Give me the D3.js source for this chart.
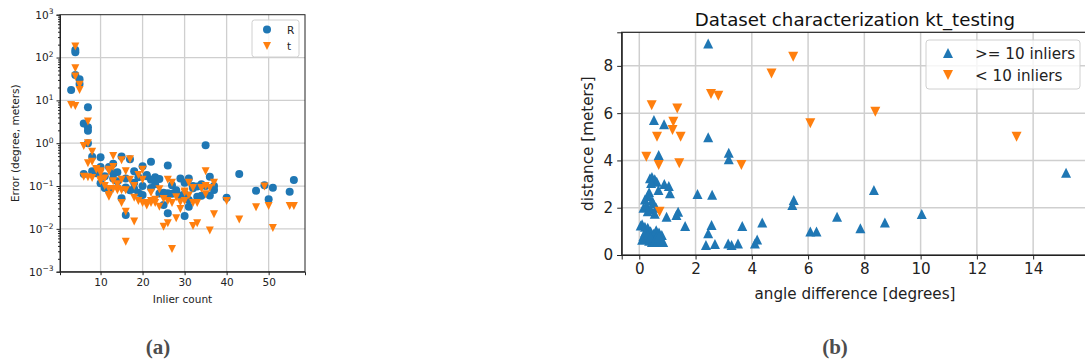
<!DOCTYPE html>
<html>
<head>
<meta charset="utf-8">
<script src="https://cdn.jsdelivr.net/npm/d3@7"></script>
<style>
  body { margin: 0; background: #fff; }
  svg { display: block; font-family: "DejaVu Sans", sans-serif; }
</style>
</head>
<body>
<div id="chart"></div>
<script>
// ---- data (a): inlier count vs error ----
const rCount = [3,4,4,4,5,5,6,7,7,7,7,8,10,6,10,13,15,17,18,20,22,26,35,43,56,29,30,36,10,12,15,16,16,19,20,21,23,24,25,26,26,28,27,30,31,31,32,34,37,40,47,49,50,51,55,12,13,14,21,12,8,9,11,14,16,18,19,22,23,25,24,27,29,30,32,33,33,35,36,31,20,17,13,11,28,34,37,22,18]
const rError = [17.5,150,133,39,31,24,2.9,6.9,2.35,1.96,1.0,0.48,0.47,0.19,0.28,0.33,0.49,0.42,0.22,0.29,0.37,0.30,0.9,0.19,0.138,0.15,0.12,0.165,0.116,0.081,0.052,0.021,0.093,0.07,0.062,0.17,0.16,0.145,0.036,0.023,0.068,0.068,0.105,0.02,0.033,0.15,0.089,0.059,0.081,0.053,0.078,0.105,0.049,0.091,0.074,0.28,0.2,0.21,0.18,0.08,0.22,0.2,0.17,0.13,0.15,0.12,0.16,0.09,0.11,0.07,0.067,0.066,0.06,0.065,0.1,0.097,0.056,0.1,0.06,0.047,0.1,0.08,0.15,0.09,0.08,0.11,0.1,0.14,0.085]
const tCount = [3,4,4,4,4,5,5,7,6,7,8,7,8,13,15,17,20,13,35,9,10,12,6,7,8,10,12,13,14,15,16,16,17,18,18,20,21,22,23,24,25,26,26,27,27,28,29,30,30,31,32,32,33,34,35,36,37,37,40,43,47,49,50,51,55,56,10,12,16,19,20,10,15,12,13,14,15,16,12,19,22,9,24,32,34,30,22,25,26,28,29,31,33,21,23,11,14,18,11,27,35,36]
const tError = [7.8,7.4,180,56,36,23,17.5,3.2,0.86,1.0,0.63,0.34,0.37,0.5,0.4,0.42,0.24,0.28,0.22,0.24,0.2,0.22,0.165,0.16,0.155,0.14,0.062,0.13,0.08,0.04,0.025,0.005,0.14,0.0148,0.053,0.04,0.04,0.045,0.048,0.033,0.0112,0.0135,0.14,0.04,0.0034,0.0177,0.029,0.045,0.07,0.12,0.04,0.0117,0.0135,0.088,0.064,0.0091,0.022,0.12,0.045,0.0165,0.032,0.097,0.034,0.0105,0.034,0.034,0.22,0.24,0.22,0.18,0.14,0.13,0.14,0.085,0.085,0.085,0.08,0.08,0.056,0.045,0.04,0.25,0.084,0.09,0.09,0.075,0.07,0.05,0.045,0.055,0.042,0.06,0.04,0.035,0.04,0.1,0.11,0.1,0.15,0.12,0.1,0.09]
const countTicks = [10, 20, 30, 40, 50]
const errorExponents = [-3, -2, -1, 0, 1, 2, 3]

// ---- data (b): angle difference vs distance ----
const highAngle = [2.45,0.52,0.88,2.45,0.69,3.18,3.18,0.38,0.45,0.55,0.62,0.42,0.89,1.05,0.68,1.09,2.07,2.59,0.3,0.35,0.2,0.45,0.15,0.25,0.4,0.5,0.6,0.3,0.55,0.97,1.38,1.32,1.63,0.05,0.1,0.2,0.3,0.4,0.5,0.6,0.7,0.8,0.15,0.25,0.35,0.45,0.55,0.65,0.75,0.85,0.2,0.3,0.1,0.4,0.6,0.7,2.57,2.45,2.37,2.69,3.16,3.28,3.51,3.66,4.11,4.19,4.37,5.49,5.44,6.08,6.30,7.03,7.86,8.34,8.73,10.04,15.17]
const highDist = [8.95,5.71,5.53,4.98,4.23,4.33,4.05,3.25,3.3,3.2,3.1,3.05,3.0,2.92,2.75,2.61,2.58,2.55,2.5,2.65,2.35,2.3,2.0,2.1,1.95,2.2,2.0,1.85,1.75,1.62,1.83,1.69,1.23,1.25,1.3,1.2,1.15,1.0,0.9,1.05,0.95,0.85,0.8,0.7,0.6,0.55,0.65,0.55,0.6,0.55,0.95,0.85,0.65,0.75,0.75,0.8,1.27,0.92,0.42,0.47,0.49,0.42,0.49,1.23,0.49,0.66,1.37,2.33,2.11,0.99,0.99,1.62,1.13,2.75,1.37,1.73,3.48]
const lowAngle = [4.70,2.55,2.81,0.44,1.35,1.21,1.18,0.63,1.47,0.25,0.69,1.42,3.63,0.72,5.47,6.08,8.39,13.41]
const lowDist = [7.68,6.81,6.74,6.33,6.20,5.64,5.29,5.0,5.0,4.16,3.81,3.88,3.81,1.83,8.39,5.57,6.06,5.0]
const angleTicks = [0, 2, 4, 6, 8, 10, 12, 14]
const distTicks = [0, 2, 4, 6, 8]

const blue = "#1f77b4", orange = "#ff7f0e", gridColor = "#cfcfcf"

const svg = d3.select("#chart").append("svg")
    .attr("width", 1085)
    .attr("height", 362)

// triangle centred on its bounding box, like matplotlib markers
function tri(s, up) {
    return up ? `M0,${-s}L${s},${s}L${-s},${s}Z` : `M0,${s}L${s},${-s}L${-s},${-s}Z`
}

// ================= (a) =================
const ax1 = { left: 60, top: 14.7, right: 305, bottom: 271.7 }
const x1 = d3.scaleLinear().domain([0.35, 58.65]).range([ax1.left, ax1.right])
const y1 = d3.scaleLog().domain([1e-3, 1e3]).range([ax1.bottom, ax1.top])
const g1 = svg.append("g")

// grid
g1.selectAll(null).data(countTicks).join("line")
    .attr("x1", d => x1(d)).attr("x2", d => x1(d))
    .attr("y1", ax1.top).attr("y2", ax1.bottom)
    .attr("stroke", gridColor).attr("stroke-width", 1.3)
g1.selectAll(null).data(errorExponents.slice(1, -1)).join("line")
    .attr("y1", d => y1(10 ** d)).attr("y2", d => y1(10 ** d))
    .attr("x1", ax1.left).attr("x2", ax1.right)
    .attr("stroke", gridColor).attr("stroke-width", 1.3)

// points
g1.selectAll(null).data(d3.zip(rCount, rError)).join("circle")
    .attr("cx", d => x1(d[0])).attr("cy", d => y1(d[1]))
    .attr("r", 4).attr("fill", blue)
g1.selectAll(null).data(d3.zip(tCount, tError)).join("path")
    .attr("d", tri(4, false))
    .attr("transform", d => `translate(${x1(d[0])},${y1(d[1])})`)
    .attr("fill", orange)

// axes
g1.append("g")
    .attr("transform", `translate(0,${ax1.bottom})`)
    .call(d3.axisBottom(x1).tickValues(countTicks).tickSize(3.5).tickPadding(3))
const yAxis1 = g1.append("g")
    .attr("transform", `translate(${ax1.left},0)`)
    .call(d3.axisLeft(y1).tickValues(errorExponents.map(e => 10 ** e)).tickSize(3.5).tickPadding(3).tickFormat(""))
const minor = []
errorExponents.slice(0, -1).forEach(e => { for (let k = 2; k < 10; k++) minor.push(k * 10 ** e) })
g1.append("g")
    .attr("transform", `translate(${ax1.left},0)`)
    .call(d3.axisLeft(y1).tickValues(minor).tickSize(2).tickFormat(""))
    .call(a => a.select(".domain").remove())

yAxis1.selectAll(".tick text").each(function(d) {
    const t = d3.select(this)
    const e = Math.round(Math.log10(d))
    t.append("tspan").text("10")
    t.append("tspan").text(e < 0 ? "\u2212" + (-e) : e)
        .attr("font-size", 7.5).attr("dy", "-0.55em")
})
g1.selectAll(".tick text").attr("font-size", 10.5).attr("fill", "#222")
    .attr("font-family", "DejaVu Sans")
g1.selectAll(".tick line").attr("stroke", "#222")
g1.selectAll(".domain").attr("stroke", "#222")

// spines
g1.append("rect")
    .attr("x", ax1.left).attr("y", ax1.top)
    .attr("width", ax1.right - ax1.left).attr("height", ax1.bottom - ax1.top)
    .attr("fill", "none").attr("stroke", "#222").attr("stroke-width", 1)

g1.append("text")
    .attr("x", (ax1.left + ax1.right) / 2).attr("y", 303)
    .attr("text-anchor", "middle").attr("font-size", 10.5).attr("fill", "#222")
    .text("Inlier count")
g1.append("text")
    .attr("transform", `translate(19,${(ax1.top + ax1.bottom) / 2}) rotate(-90)`)
    .attr("text-anchor", "middle").attr("font-size", 10.5).attr("fill", "#222")
    .text("Error (degree, meters)")

// legend (a)
const leg1 = g1.append("g")
leg1.append("rect")
    .attr("x", 252).attr("y", 20).attr("width", 47).attr("height", 37).attr("rx", 2.5)
    .attr("fill", "white").attr("fill-opacity", 0.8).attr("stroke", "#d0d0d0")
leg1.append("circle").attr("cx", 267).attr("cy", 29.5).attr("r", 4).attr("fill", blue)
leg1.append("path").attr("d", tri(4, false)).attr("transform", "translate(267,46)").attr("fill", orange)
leg1.append("text").attr("x", 287).attr("y", 33.5).attr("font-size", 10.5).attr("fill", "#222").text("R")
leg1.append("text").attr("x", 287).attr("y", 50).attr("font-size", 10.5).attr("fill", "#222").text("t")

// ================= (b) =================
const ax2 = { left: 621.7, top: 32.3, right: 1088, bottom: 255 }
const x2 = d3.scaleLinear().domain([-0.625, 15.95]).range([ax2.left, ax2.right])
const y2 = d3.scaleLinear().domain([0, 9.42]).range([ax2.bottom, ax2.top])
const g2 = svg.append("g")
const fs2 = 15.2

g2.selectAll(null).data(angleTicks).join("line")
    .attr("x1", d => x2(d)).attr("x2", d => x2(d))
    .attr("y1", ax2.top).attr("y2", ax2.bottom)
    .attr("stroke", gridColor).attr("stroke-width", 1.5)
g2.selectAll(null).data(distTicks.slice(1)).join("line")
    .attr("y1", d => y2(d)).attr("y2", d => y2(d))
    .attr("x1", ax2.left).attr("x2", ax2.right)
    .attr("stroke", gridColor).attr("stroke-width", 1.5)

g2.selectAll(null).data(d3.zip(highAngle, highDist)).join("path")
    .attr("d", tri(5, true))
    .attr("transform", d => `translate(${x2(d[0])},${y2(d[1])})`)
    .attr("fill", blue)
g2.selectAll(null).data(d3.zip(lowAngle, lowDist)).join("path")
    .attr("d", tri(5, false))
    .attr("transform", d => `translate(${x2(d[0])},${y2(d[1])})`)
    .attr("fill", orange)

g2.append("g")
    .attr("transform", `translate(0,${ax2.bottom})`)
    .call(d3.axisBottom(x2).tickValues(angleTicks).tickSize(4.5).tickPadding(4))
g2.append("g")
    .attr("transform", `translate(${ax2.left},0)`)
    .call(d3.axisLeft(y2).tickValues(distTicks).tickSize(4.5).tickPadding(4))
g2.selectAll(".tick text").attr("font-size", fs2).attr("fill", "#222")
    .attr("font-family", "DejaVu Sans")
g2.selectAll(".tick line").attr("stroke", "#222")
g2.selectAll(".domain").attr("stroke", "#222")

g2.append("rect")
    .attr("x", ax2.left).attr("y", ax2.top)
    .attr("width", ax2.right - ax2.left).attr("height", ax2.bottom - ax2.top)
    .attr("fill", "none").attr("stroke", "#222").attr("stroke-width", 1.2)

g2.append("text")
    .attr("x", 855).attr("y", 26)
    .attr("text-anchor", "middle").attr("font-size", 18.2).attr("fill", "#111")
    .text("Dataset characterization kt_testing")
g2.append("text")
    .attr("x", 855).attr("y", 299)
    .attr("text-anchor", "middle").attr("font-size", fs2).attr("fill", "#222")
    .text("angle difference [degrees]")
g2.append("text")
    .attr("transform", `translate(593,${(ax2.top + ax2.bottom) / 2}) rotate(-90)`)
    .attr("text-anchor", "middle").attr("font-size", fs2).attr("fill", "#222")
    .text("distance [meters]")

const leg2 = g2.append("g")
leg2.append("rect")
    .attr("x", 926).attr("y", 40).attr("width", 154).attr("height", 49).attr("rx", 3)
    .attr("fill", "white").attr("fill-opacity", 0.8).attr("stroke", "#d0d0d0")
leg2.append("path").attr("d", tri(5, true)).attr("transform", "translate(948,53)").attr("fill", blue)
leg2.append("path").attr("d", tri(5, false)).attr("transform", "translate(948,75)").attr("fill", orange)
leg2.append("text").attr("x", 975).attr("y", 58.5).attr("font-size", fs2).attr("fill", "#222").text(">= 10 inliers")
leg2.append("text").attr("x", 975).attr("y", 80.5).attr("font-size", fs2).attr("fill", "#222").text("< 10 inliers")

// sub-figure captions
svg.append("text").attr("x", 158).attr("y", 354)
    .attr("text-anchor", "middle").attr("font-family", "Liberation Serif, serif")
    .attr("font-weight", "bold").attr("font-size", 21).attr("fill", "#4d4d4d").text("(a)")
svg.append("text").attr("x", 835).attr("y", 354)
    .attr("text-anchor", "middle").attr("font-family", "Liberation Serif, serif")
    .attr("font-weight", "bold").attr("font-size", 21).attr("fill", "#4d4d4d").text("(b)")
</script>
</body>
</html>
